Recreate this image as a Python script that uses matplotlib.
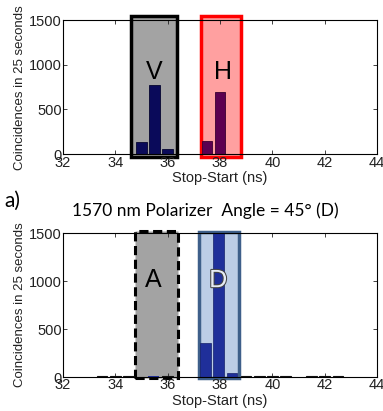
import matplotlib
matplotlib.use("Agg")
import matplotlib.pyplot as plt
import matplotlib.patches as mpatches
import matplotlib.patheffects as pe

plt.rcParams['font.family'] = ['Liberation Sans', 'DejaVu Sans']

# ---- data ----
top_v_x = [35.0, 35.5, 36.0]
top_v_y = [140, 775, 55]
top_h_x = [37.5, 38.0]
top_h_y = [150, 690]

bot_d_x = [37.45, 37.95, 38.45]
bot_d_y = [350, 1650, 40]
bot_a_x = [35.45]
bot_a_y = [15]
bot_small_x = [33.5, 34.0, 34.5, 36.0, 39.0, 39.5, 40.0, 40.5, 41.5, 42.0, 42.5]
bot_small_y = [8, 10, 8, 10, 8, 10, 8, 6, 8, 10, 8]

xticks = [32, 34, 36, 38, 40, 42, 44]
yticks = [0, 500, 1000, 1500]
title = "1570 nm Polarizer  Angle = 45\u00b0 (D)"

fig = plt.figure(figsize=(3.83, 4.11), dpi=100)
ax1 = fig.add_axes([0.1645, 0.625, 0.820, 0.326])
ax2 = fig.add_axes([0.1645, 0.0827, 0.820, 0.350])

def style(ax):
    ax.set_xlim(32, 44)
    ax.set_ylim(0, 1500)
    ax.set_xticks(xticks)
    ax.set_yticks(yticks)
    ax.tick_params(direction='in', top=True, right=True, length=3, width=0.6,
                   labelsize=10.5, pad=1, colors='#222222')
    for s in ax.spines.values():
        s.set_linewidth(0.8)
    ax.set_xlabel("Stop-Start (ns)", fontsize=10.5, labelpad=1, color='#222222')
    ax.set_ylabel("Coincidences in 25 seconds", fontsize=9.5, labelpad=2, color='#222222')

style(ax1)
style(ax2)

# top boxes
ax1.add_patch(mpatches.Rectangle((34.6, -33), 1.76, 1578, facecolor='#a3a3a3',
                                 edgecolor='black', linewidth=2.5, clip_on=False, zorder=1))
ax1.add_patch(mpatches.Rectangle((37.27, -33), 1.53, 1578, facecolor='#ffa0a0',
                                 edgecolor='#ff0000', linewidth=2.5, clip_on=False, zorder=1))
ax1.bar(top_v_x, top_v_y, width=0.4, color='#0a0a5a', edgecolor='#050530', linewidth=0.6, zorder=2)
ax1.bar(top_h_x, top_h_y, width=0.4, color='#5c0050', edgecolor='#3a0030', linewidth=0.6, zorder=2)
ax1.text(35.5, 920, "V", fontsize=18, ha='center', va='center', zorder=3)
ax1.text(38.1, 920, "H", fontsize=18, ha='center', va='center', zorder=3)

# bottom boxes
ax2.add_patch(mpatches.Rectangle((34.75, -10), 1.65, 1534, facecolor='#a3a3a3',
                                 edgecolor='black', linewidth=2.2, linestyle=(0, (3, 1.5)),
                                 clip_on=False, zorder=1))
ax2.add_patch(mpatches.Rectangle((37.2, -10), 1.54, 1524, facecolor='#bccde6',
                                 edgecolor='#3e5f8a', linewidth=2.5, clip_on=False, zorder=1))
ax2.bar(bot_small_x, bot_small_y, width=0.4, color='#111111', edgecolor='#111111', linewidth=0.8, zorder=2)
ax2.bar(bot_a_x, bot_a_y, width=0.4, color='#1f2f9a', linewidth=0, zorder=2)
ax2.bar(bot_d_x, bot_d_y, width=0.4, color='#1f2f9a', edgecolor='#15206a', linewidth=0.5, zorder=2)
ax2.text(35.45, 1010, "A", fontsize=18, ha='center', va='center', zorder=3)
ax2.text(37.93, 1010, "D", fontsize=18, ha='center', va='center',
         color='#e6ebf4', zorder=3,
         path_effects=[pe.Stroke(linewidth=1.5, foreground='#444444'), pe.Normal()])

fig.text(0.535, 0.488, title, fontsize=12.5, ha='center', va='center', family=['Lato', 'DejaVu Sans'])
fig.text(0.012, 0.512, "a)", fontsize=15, ha='left', va='center', family=['Lato', 'DejaVu Sans'])

fig.savefig("out.png", dpi=100)
